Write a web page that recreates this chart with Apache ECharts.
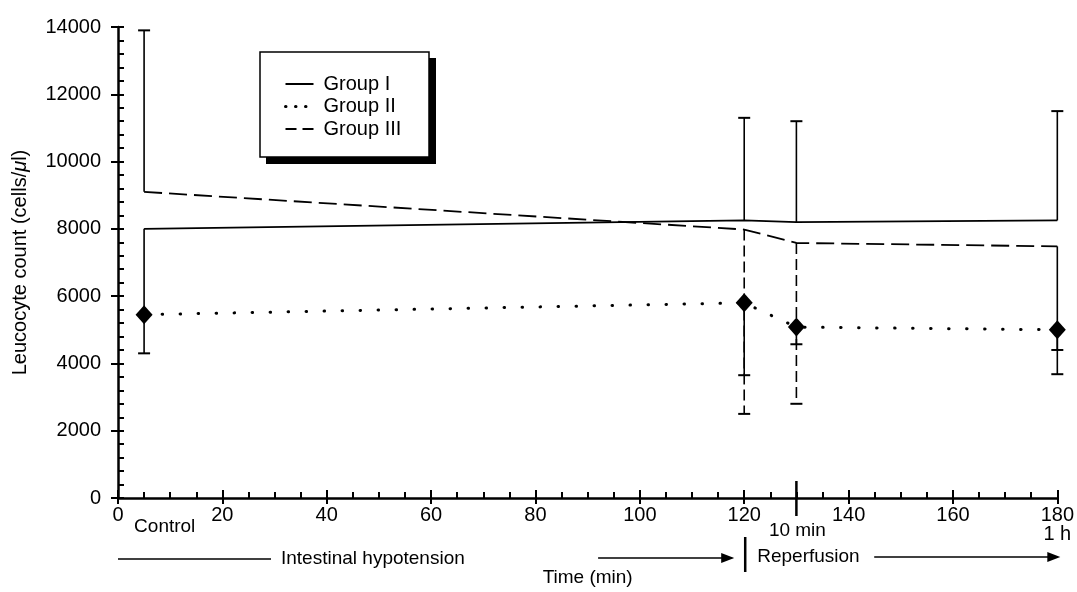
<!DOCTYPE html>
<html>
  <head>
    <meta charset="UTF-8" />
    <title>Leucocyte count</title>
    <style>
      html,
      body {
        margin: 0;
        padding: 0;
        background: #fff;
      }
      #main {
        width: 1077px;
        height: 592px;
      }
    </style>
    <script src="https://cdn.jsdelivr.net/npm/echarts@6/dist/echarts.min.js"></script>
  </head>
  <body>
    <div id="main"></div>
    <script>
      // time points (min) and group means
      const times = [5, 120, 130, 180];
      const group1 = [8000, 8250, 8200, 8250];
      const group2 = [5450, 5800, 5080, 5000];
      const group3 = [9100, 7980, 7580, 7480];
      // error bar ends (null = not drawn)
      const group1Upper = [null, 11300, 11200, 11500];
      const group1Lower = [4300, null, null, null];
      const group2Lower = [null, 3650, 4570, 3680];
      const group3Upper = [13900, null, null, null];
      const group3Lower = [null, 2500, 2800, 4400];
      const groupNames = ["Group I", "Group II", "Group III"];

      const FONT = "'Liberation Sans', Arial, Helvetica, sans-serif";
      const dashOfBar3 = [false, true, true, false];

      function pairs(ys) {
        return times.map((t, i) => [t, ys[i]]);
      }
      function bars(center, end) {
        const out = [];
        times.forEach((t, i) => {
          if (end[i] != null) out.push([t, center[i], end[i], i]);
        });
        return out;
      }
      function barSeries(data, dashFn) {
        return {
          type: "custom",
          data: data,
          encode: { x: 0, y: [1, 2] },
          silent: true,
          z: 3,
          renderItem: function (params, api) {
            const p0 = api.coord([api.value(0), api.value(1)]);
            const p1 = api.coord([api.value(0), api.value(2)]);
            const dashed = dashFn ? dashFn(api.value(3)) : false;
            return {
              type: "group",
              children: [
                {
                  type: "line",
                  shape: { x1: p0[0], y1: p0[1], x2: p1[0], y2: p1[1] },
                  style: {
                    stroke: "#000",
                    lineWidth: 1.6,
                    lineDash: dashed ? [11, 5] : null,
                  },
                },
                {
                  type: "line",
                  shape: { x1: p1[0] - 6, y1: p1[1], x2: p1[0] + 6, y2: p1[1] },
                  style: { stroke: "#000", lineWidth: 2 },
                },
              ],
            };
          },
        };
      }

      const xBase = {
        type: "value",
        min: 0,
        max: 180,
        interval: 20,
        position: "bottom",
        splitLine: { show: false },
      };
      const yBase = {
        type: "value",
        min: 0,
        max: 14000,
        interval: 2000,
        position: "left",
        splitLine: { show: false },
      };

      const option = {
        animation: false,
        backgroundColor: "#fff",
        textStyle: { fontFamily: FONT, color: "#000" },
        grid: { left: 118, right: 19, top: 27, bottom: 94 },
        legend: {
          data: [
            { name: groupNames[0] },
            { name: groupNames[1], lineStyle: { type: [0.5, 9.5], width: 3, cap: "round" } },
            { name: groupNames[2], lineStyle: { type: [11, 6] } },
          ],
          orient: "vertical",
          left: 260,
          top: 52,
          padding: [22, 40, 20, 24],
          itemGap: 2.5,
          itemWidth: 28,
          itemHeight: 20,
          selectedMode: false,
          z: 10,
          itemStyle: { opacity: 0 },
          textStyle: { fontFamily: FONT, fontSize: 20, color: "#000", padding: [0, 0, 0, 5] },
        },
        xAxis: [
          Object.assign({}, xBase, {
            name: "Time (min)",
            nameLocation: "middle",
            nameGap: 70,
            nameTextStyle: { fontFamily: FONT, fontSize: 19, color: "#000" },
            axisLine: { lineStyle: { color: "#000", width: 2.5 } },
            axisTick: { inside: true, length: 8, lineStyle: { color: "#000", width: 2 } },
            minorTick: { show: true, splitNumber: 4, length: 6, lineStyle: { color: "#000", width: 2 } },
            axisLabel: {
              margin: 8,
              fontFamily: FONT,
              fontSize: 20,
              color: "#000",
              formatter: (v) => (v === 180 ? "180\n1 h" : String(v)),
              lineHeight: 19,
            },
          }),
          Object.assign({}, xBase, {
            axisLine: { show: false },
            axisTick: { inside: false, length: 6, lineStyle: { color: "#000", width: 2 } },
            axisLabel: { show: false },
          }),
        ],
        yAxis: [
          Object.assign({}, yBase, {
            name: "Leucocyte count (cells/{i|μ}l)",
            nameLocation: "middle",
            nameGap: 88,
            nameRotate: 90,
            nameTextStyle: {
              fontFamily: FONT,
              fontSize: 20,
              color: "#000",
              rich: { i: { fontFamily: FONT, fontSize: 20, fontStyle: "italic", color: "#000" } },
            },
            axisLine: { lineStyle: { color: "#000", width: 2.5 } },
            axisTick: { inside: true, length: 6, lineStyle: { color: "#000", width: 2 } },
            minorTick: { show: true, splitNumber: 5, length: 6, lineStyle: { color: "#000", width: 2 } },
            axisLabel: {
              margin: 17,
              fontFamily: FONT,
              fontSize: 20,
              color: "#000",
              formatter: (v) => String(v),
            },
          }),
          Object.assign({}, yBase, {
            axisLine: { show: false },
            axisTick: { inside: false, length: 7, lineStyle: { color: "#000", width: 2 } },
            axisLabel: { show: false },
          }),
        ],
        series: [
          {
            name: groupNames[0],
            type: "line",
            data: pairs(group1),
            symbol: "none",
            lineStyle: { color: "#000", width: 1.8, type: "solid" },
            itemStyle: { color: "#000" },
            z: 4,
          },
          {
            name: groupNames[1],
            type: "line",
            data: pairs(group2),
            symbol: "none",
            lineStyle: { color: "#000", width: 3, type: [0.5, 17.5], cap: "round" },
            itemStyle: { color: "#000" },
            z: 4,
          },
          {
            name: groupNames[2],
            type: "line",
            data: pairs(group3),
            symbol: "none",
            lineStyle: { color: "#000", width: 1.8, type: [18, 7] },
            itemStyle: { color: "#000" },
            z: 4,
          },
          barSeries(bars(group1, group1Upper)),
          barSeries(bars(group1, group1Lower)),
          barSeries(bars(group2, group2Lower)),
          barSeries(bars(group3, group3Upper)),
          barSeries(bars(group3, group3Lower), (i) => dashOfBar3[i]),
          {
            type: "scatter",
            data: pairs(group2),
            symbol: "diamond",
            symbolSize: [17, 19],
            itemStyle: { color: "#000", opacity: 1 },
            z: 6,
          },
        ],
      };

      const chart = echarts.init(document.getElementById("main"));
      chart.setOption(option);

      // annotations under the time axis, legend frame
      const px = (t) => chart.convertToPixel({ xAxisIndex: 0 }, t);
      const axisY = chart.convertToPixel({ yAxisIndex: 0 }, 0);
      const rowY = axisY + 61;
      const line = (x1, y1, x2, y2, w) => ({
        type: "line",
        shape: { x1, y1, x2, y2 },
        style: { stroke: "#000", lineWidth: w || 1.5 },
      });
      const head = (x, y) => ({
        type: "polygon",
        shape: { points: [[x, y], [x - 13, y - 5], [x - 13, y + 5]] },
        style: { fill: "#000" },
      });
      const text = (x, y, s, align) => ({
        type: "text",
        x,
        y,
        style: {
          text: s,
          fontFamily: FONT,
          fontSize: 19,
          fill: "#000",
          align: align || "left",
          verticalAlign: "middle",
        },
      });

      chart.setOption({
        graphic: [
          {
            type: "rect",
            z: 1,
            shape: { x: 266, y: 58, width: 170, height: 106 },
            style: { fill: "#000" },
          },
          {
            type: "rect",
            z: 2,
            shape: { x: 260, y: 52, width: 169, height: 105 },
            style: { fill: "#fff", stroke: "#000", lineWidth: 1.5 },
          },
          line(px(130), axisY - 17, px(130), axisY + 18, 2.5),
          text(px(times[0]) - 10, axisY + 29, "Control"),
          text(px(130) + 1, axisY + 33, "10 min", "center"),
          line(px(0), rowY, px(0) + 153, rowY),
          text(px(0) + 163, rowY, "Intestinal hypotension"),
          line(px(92), rowY - 1, px(120) - 12, rowY - 1),
          head(px(120) - 10, rowY - 1),
          line(px(120) + 1, rowY - 22, px(120) + 1, rowY + 13, 2.5),
          text(px(120) + 13, rowY - 2, "Reperfusion"),
          line(px(120) + 130, rowY - 2, px(180), rowY - 2),
          head(px(180) + 3, rowY - 2),
        ],
      });
    </script>
  </body>
</html>
